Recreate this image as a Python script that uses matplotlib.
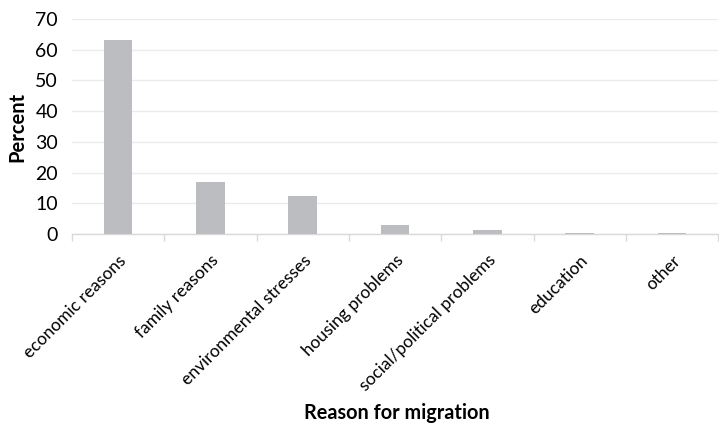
import matplotlib
matplotlib.use("Agg")
import matplotlib.pyplot as plt
import numpy as np

# reasons for migration and share of respondents (%)
reasons = ["economic reasons", "family reasons", "environmental stresses",
           "housing problems", "social/political problems", "education", "other"]
percent = [63.2, 17.0, 12.5, 2.9, 1.5, 0.3, 0.3]
y_ticks = [0, 10, 20, 30, 40, 50, 60, 70]

plt.rcParams["font.family"] = ["Lato", "DejaVu Sans"]

fig = plt.figure(figsize=(7.19, 4.28), dpi=100)
ax = fig.add_axes([0.100, 0.453, 0.899, 0.503])

x = np.arange(len(reasons))
ax.bar(x, percent, width=0.31, color="#bcbdc0", zorder=3)

ax.set_xlim(-0.5, len(reasons) - 0.5)
ax.set_ylim(0, 70)
ax.set_yticks(y_ticks)
ax.yaxis.grid(True, color="#ebebeb", linewidth=1.0, zorder=0)
ax.tick_params(axis="y", length=0, labelsize=14, pad=10)

# category labels at bar centres, tick marks at boundaries
ax.set_xticks(x)
ax.set_xticklabels(reasons, rotation=45, ha="right", rotation_mode="anchor", fontsize=12.5)
ax.tick_params(axis="x", which="major", length=0, pad=13)
ax.set_xticks(np.arange(len(reasons) + 1) - 0.5, minor=True)
ax.tick_params(axis="x", which="minor", length=5, color="#d9d9d9", width=1)

for s in ["top", "right", "left"]:
    ax.spines[s].set_visible(False)
ax.spines["bottom"].set_color("#d9d9d9")
ax.spines["bottom"].set_linewidth(1.0)

ax.set_ylabel("Percent", fontsize=14.5, fontweight="bold", labelpad=6)
fig.text(0.552, 0.012, "Reason for migration", ha="center", va="bottom",
         fontsize=14.3, fontweight="bold")

fig.savefig("out.png", dpi=100)
